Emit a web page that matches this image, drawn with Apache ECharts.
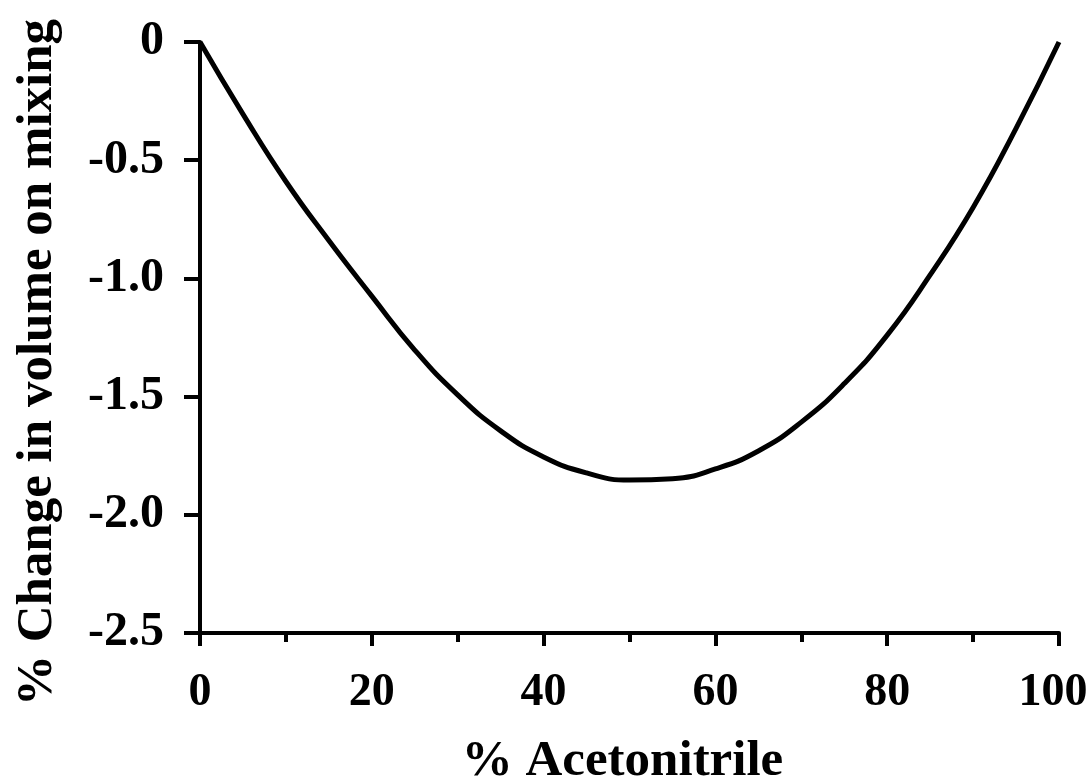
<!DOCTYPE html>
<html>
<head>
<meta charset="utf-8">
<script src="https://cdn.jsdelivr.net/npm/echarts@6/dist/echarts.min.js"></script>
<style>
html,body{margin:0;padding:0;background:#fff;}
#chart{width:1089px;height:781px;}
</style>
</head>
<body>
<div id="chart"></div>
<script>
var acetonitrile = [0, 5, 10, 15, 20, 25, 30, 35, 40, 45, 50, 55, 60, 65, 70, 75, 80, 85, 90, 95, 100];
var volumeChange = [0, -0.305, -0.59, -0.84, -1.075, -1.303, -1.493, -1.645, -1.755, -1.823, -1.853, -1.847, -1.806, -1.73, -1.608, -1.445, -1.24, -0.985, -0.70, -0.365, 0];
var xTickLabels = ['0', '20', '40', '60', '80', '100'];
var yTickLabels = ['0', '-0.5', '-1.0', '-1.5', '-2.0', '-2.5'];
var xTitle = '% Acetonitrile';
var yTitle = '% Change in volume on mixing';

var font = 'Liberation Serif';
var points = acetonitrile.map(function (x, i) { return [x, volumeChange[i]]; });

var chart = echarts.init(document.getElementById('chart'), null, {renderer: 'canvas'});
chart.setOption({
  animation: false,
  backgroundColor: '#ffffff',
  grid: {left: 200, right: 30, top: 42, bottom: 148, containLabel: false, outerBoundsMode: 'none'},
  xAxis: {
    type: 'value', min: 0, max: 100, interval: 20,
    name: xTitle, nameLocation: 'middle', nameGap: 103,
    nameTextStyle: {fontFamily: font, fontWeight: 'bold', fontSize: 51, color: '#000', padding: [0, 14, 0, 0]},
    axisLine: {onZero: false, lineStyle: {color: '#000', width: 4}},
    axisTick: {show: true, inside: false, length: 13, lineStyle: {color: '#000', width: 4}},
    minorTick: {show: true, splitNumber: 2, length: 9, lineStyle: {color: '#000', width: 4}},
    splitLine: {show: false},
    minorSplitLine: {show: false},
    axisLabel: {
      margin: 37, fontFamily: font, fontWeight: 'bold', fontSize: 46, color: '#000',
      formatter: function (v) {
        var i = Math.round(v / 20);
        return i === xTickLabels.length - 1 ? '{last|' + xTickLabels[i] + '}' : xTickLabels[i];
      },
      rich: {
        last: {fontFamily: font, fontWeight: 'bold', fontSize: 46, color: '#000', padding: [0, 12, 0, 0]}
      }
    }
  },
  yAxis: {
    type: 'value', min: -2.5, max: 0, interval: 0.5,
    name: yTitle, nameLocation: 'middle', nameGap: 137, nameRotate: 90,
    nameTextStyle: {fontFamily: font, fontWeight: 'bold', fontSize: 51, color: '#000', padding: [0, 50, 0, 0]},
    axisLine: {onZero: false, lineStyle: {color: '#000', width: 4}},
    axisTick: {show: true, inside: false, length: 16, lineStyle: {color: '#000', width: 4}},
    splitLine: {show: false},
    axisLabel: {
      margin: 36, fontFamily: font, fontWeight: 'bold', fontSize: 48, color: '#000',
      formatter: function (v) { return yTickLabels[Math.round(-v / 0.5)]; }
    }
  },
  series: [{
    type: 'line',
    data: points,
    smooth: 0.5,
    showSymbol: false,
    symbol: 'none',
    lineStyle: {color: '#000', width: 5},
    z: 3
  }]
});
</script>
</body>
</html>
